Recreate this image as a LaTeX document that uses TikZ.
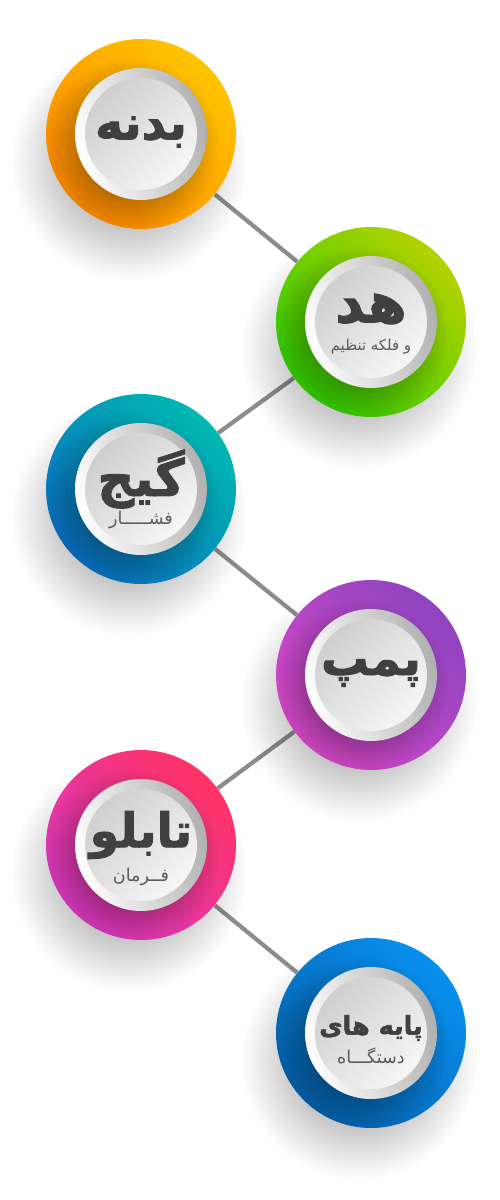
\documentclass[tikz,border=0pt]{standalone}
\usepackage{fontspec}
\usetikzlibrary{fadings,backgrounds}
\TeXXeTstate=1
\newfontfamily\arabicfont[Script=Arabic]{DejaVu Sans}
\newfontfamily\titlefont[Script=Arabic,FakeBold=2]{DejaVu Sans Bold}

\definecolor{orangeA}{HTML}{FFC400}
\definecolor{orangeB}{HTML}{FF8A00}
\definecolor{greenA}{HTML}{B4D200}
\definecolor{greenB}{HTML}{30CC00}
\definecolor{tealA}{HTML}{00B8B0}
\definecolor{tealB}{HTML}{0A6EC0}
\definecolor{purpleA}{HTML}{8E44C0}
\definecolor{purpleB}{HTML}{D848C8}
\definecolor{pinkA}{HTML}{FF3366}
\definecolor{pinkB}{HTML}{D838C0}
\definecolor{blueA}{HTML}{0890F0}
\definecolor{blueB}{HTML}{0560A8}
\definecolor{linegray}{HTML}{8C8C8C}
\definecolor{rimgray}{HTML}{B0B0B0}
\definecolor{facegray}{HTML}{CFCFCF}
\definecolor{facewhite}{HTML}{F6F6F6}
\definecolor{textgray}{HTML}{404040}
\definecolor{subgray}{HTML}{5A5A5A}

\pgfdeclareradialshading{softshade}{\pgfpointorigin}{color(0bp)=(pgftransparent!0); color(14bp)=(pgftransparent!0); color(25bp)=(pgftransparent!100); color(50bp)=(pgftransparent!100)}
\pgfdeclarefading{softshadow}{\pgfuseshading{softshade}}

\begin{document}
\begin{tikzpicture}[
    x=0.02cm, y=-0.02cm,
    disc/.style={circle,inner sep=0pt,minimum size=3.8cm},
    rim/.style={circle,inner sep=0pt,minimum size=2.64cm,top color=rimgray,bottom color=white,shading angle=-75},
    face/.style={circle,inner sep=0pt,minimum size=2.24cm,top color=facegray,bottom color=facewhite,shading angle=45},
    link/.style={draw=linegray,line width=2.4pt},
    title/.style={text=textgray,font=\titlefont\fontsize{27}{29}\selectfont},
    subtitle/.style={text=subgray,font=\arabicfont\fontsize{10}{11}\selectfont},
]

\useasboundingbox (0,0) rectangle (500,1200);

% discs
\foreach \i/\x/\y/\ca/\cb in {1/141/134/orangeA/orangeB, 2/371/322/greenA/greenB,
    3/141/489/tealA/tealB, 4/371/675/purpleA/purpleB,
    5/141/845/pinkA/pinkB, 6/371/1033/blueA/blueB} {
  \node[disc,top color=\ca,bottom color=\cb,shading angle=-45] (d\i) at (\x,\y) {};
  \begin{scope}
    \clip (d\i.center) circle (95);
    \fill[black,opacity=.28,path fading=softshadow,fit fading=true]
      ([shift={(-10,12)}]d\i.center) circle (88);
  \end{scope}
  \node[rim] (r\i) at (d\i) {};
  \node[face] (f\i) at (d\i) {};
}

% labels
\node[title] (t1) at ([shift={(0,-2)}]f1) {\beginR بدنه\endR};
\node[title,font=\titlefont\fontsize{32}{34}\selectfont] (t2) at ([shift={(0,-13)}]f2) {\beginR هد\endR};
\node[subtitle,font=\arabicfont\fontsize{8.5}{10}\selectfont] (s2) at ([shift={(0,25)}]f2) {\beginR و فلکه تنظیم\endR};
\node[title,font=\titlefont\fontsize{29}{31}\selectfont] (t3) at ([shift={(0,-10)}]f3) {\beginR گیج\endR};
\node[subtitle] (s3) at ([shift={(0,31)}]f3) {\beginR فشـــــار\endR};
\node[title] (t4) at ([shift={(0,-2)}]f4) {\beginR پمپ\endR};
\node[title] (t5) at ([shift={(0,-10)}]f5) {\beginR تابلو\endR};
\node[subtitle] (s5) at ([shift={(0,32)}]f5) {\beginR فــرمان\endR};
\node[title,font=\titlefont\fontsize{14.5}{16}\selectfont] (t6) at ([shift={(0,-5)}]f6) {\beginR پایه های\endR};
\node[subtitle] (s6) at ([shift={(0,23)}]f6) {\beginR دستگـــاه\endR};

% connectors and shadows behind
\begin{pgfonlayer}{background}
  \fill[white] (0,0) rectangle (500,1200);
  \draw[link] (d1) -- (d2) -- (d3) -- (d4) -- (d5) -- (d6);
  \foreach \i in {1,...,6}
    \fill[black,opacity=.22,path fading=softshadow,fit fading=true]
      ([shift={(-12,28)}]d\i.center) circle (118);
\end{pgfonlayer}

\end{tikzpicture}
\end{document}
